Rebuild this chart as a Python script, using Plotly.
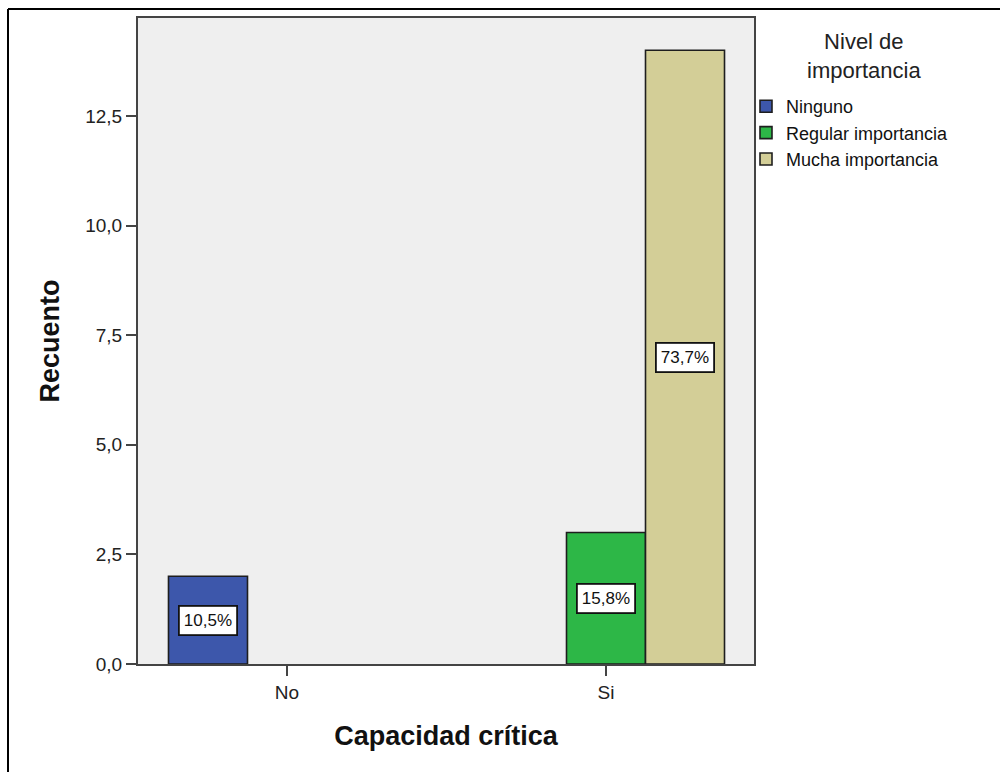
import plotly.graph_objects as go

categories = ["No", "Si"]
series_names = ["Ninguno", "Regular importancia", "Mucha importancia"]
ninguno = [2, 0]
regular = [0, 3]
mucha = [0, 14]
colors = ["#3d57ab", "#2db747", "#d3ce97"]
y_tickvals = [0, 2.5, 5.0, 7.5, 10.0, 12.5]
legend_title = "Nivel de<br>importancia"

series = [ninguno, regular, mucha]
total = sum(sum(s) for s in series)

FONT = "Liberation Sans, Arial, sans-serif"

# pixel geometry of the plot area
L, R, T, B = 138, 754, 18, 664
W, H = R - L, B - T

fig = go.Figure()
for name, vals, col in zip(series_names, series, colors):
    fig.add_trace(go.Bar(
        name=name,
        x=categories,
        y=[v if v > 0 else None for v in vals],
        marker=dict(color=col, line=dict(color="#1e1e1e", width=1.6)),
        hoverinfo="skip",
    ))

annotations = []
ngroups = len(series)
for gi, vals in enumerate(series):
    for ci, v in enumerate(vals):
        if v > 0:
            pct = v / total * 100
            txt = f"{pct:.1f}%".replace(".", ",")
            off = (gi - (ngroups - 1) / 2) * (1 - 0.257) / ngroups
            annotations.append(dict(
                x=ci + off, y=v / 2, xref="x", yref="y",
                text=txt, showarrow=False,
                font=dict(family=FONT, size=17, color="#111"),
                bgcolor="white", bordercolor="#111", borderwidth=1.8,
                borderpad=4,
            ))

# legend title, centred line by line
annotations.append(dict(
    x=(864 - L) / W, y=(B - 56) / H, xref="paper", yref="paper",
    xanchor="center", yanchor="middle", align="center",
    text=legend_title, showarrow=False,
    font=dict(family=FONT, size=22, color="#222"),
))

fig.update_layout(
    width=1000, height=772,
    margin=dict(l=L, r=1000 - R, t=T, b=772 - B),
    paper_bgcolor="white",
    plot_bgcolor="#efefef",
    barmode="group",
    bargap=0.257,
    bargroupgap=0,
    separators=",.",
    font=dict(family=FONT, size=19, color="#222"),
    annotations=annotations,
    legend=dict(
        x=(746 - L) / W, xanchor="left",
        y=(B - 88) / H, yanchor="top",
        font=dict(family=FONT, size=18, color="#111"),
        bgcolor="rgba(0,0,0,0)",
        tracegroupgap=0,
        itemclick=False,
    ),
    xaxis=dict(
        type="category",
        range=[(L - 287) / 319, (R - 287) / 319],
        showline=True, linecolor="#444", linewidth=2, mirror=True,
        ticks="outside", ticklen=10, tickwidth=2, tickcolor="#444",
        tickfont=dict(family=FONT, size=19, color="#222"),
        showgrid=False, zeroline=False,
        title=dict(text="<b>Capacidad crítica</b>",
                   font=dict(family=FONT, size=27, color="#111"),
                   standoff=24),
    ),
    yaxis=dict(
        range=[0, (B - T) / 43.84],
        tickvals=y_tickvals, tickformat=".1f",
        showline=True, linecolor="#444", linewidth=2, mirror=True,
        ticks="outside", ticklen=10, tickwidth=2, tickcolor="#444",
        tickfont=dict(family=FONT, size=19, color="#222"),
        showgrid=False, zeroline=False,
        title=dict(text="<b>Recuento</b>",
                   font=dict(family=FONT, size=27, color="#111"),
                   standoff=18),
    ),
    shapes=[
        dict(type="line", xref="paper", yref="paper",
             x0=(8 - L) / W, x1=(8 - L) / W, y0=(B - 9) / H, y1=(B - 800) / H,
             line=dict(color="black", width=2)),
        dict(type="line", xref="paper", yref="paper",
             x0=(8 - L) / W, x1=(1020 - L) / W, y0=(B - 9) / H, y1=(B - 9) / H,
             line=dict(color="black", width=2)),
    ],
)

fig.write_html("out.html")
